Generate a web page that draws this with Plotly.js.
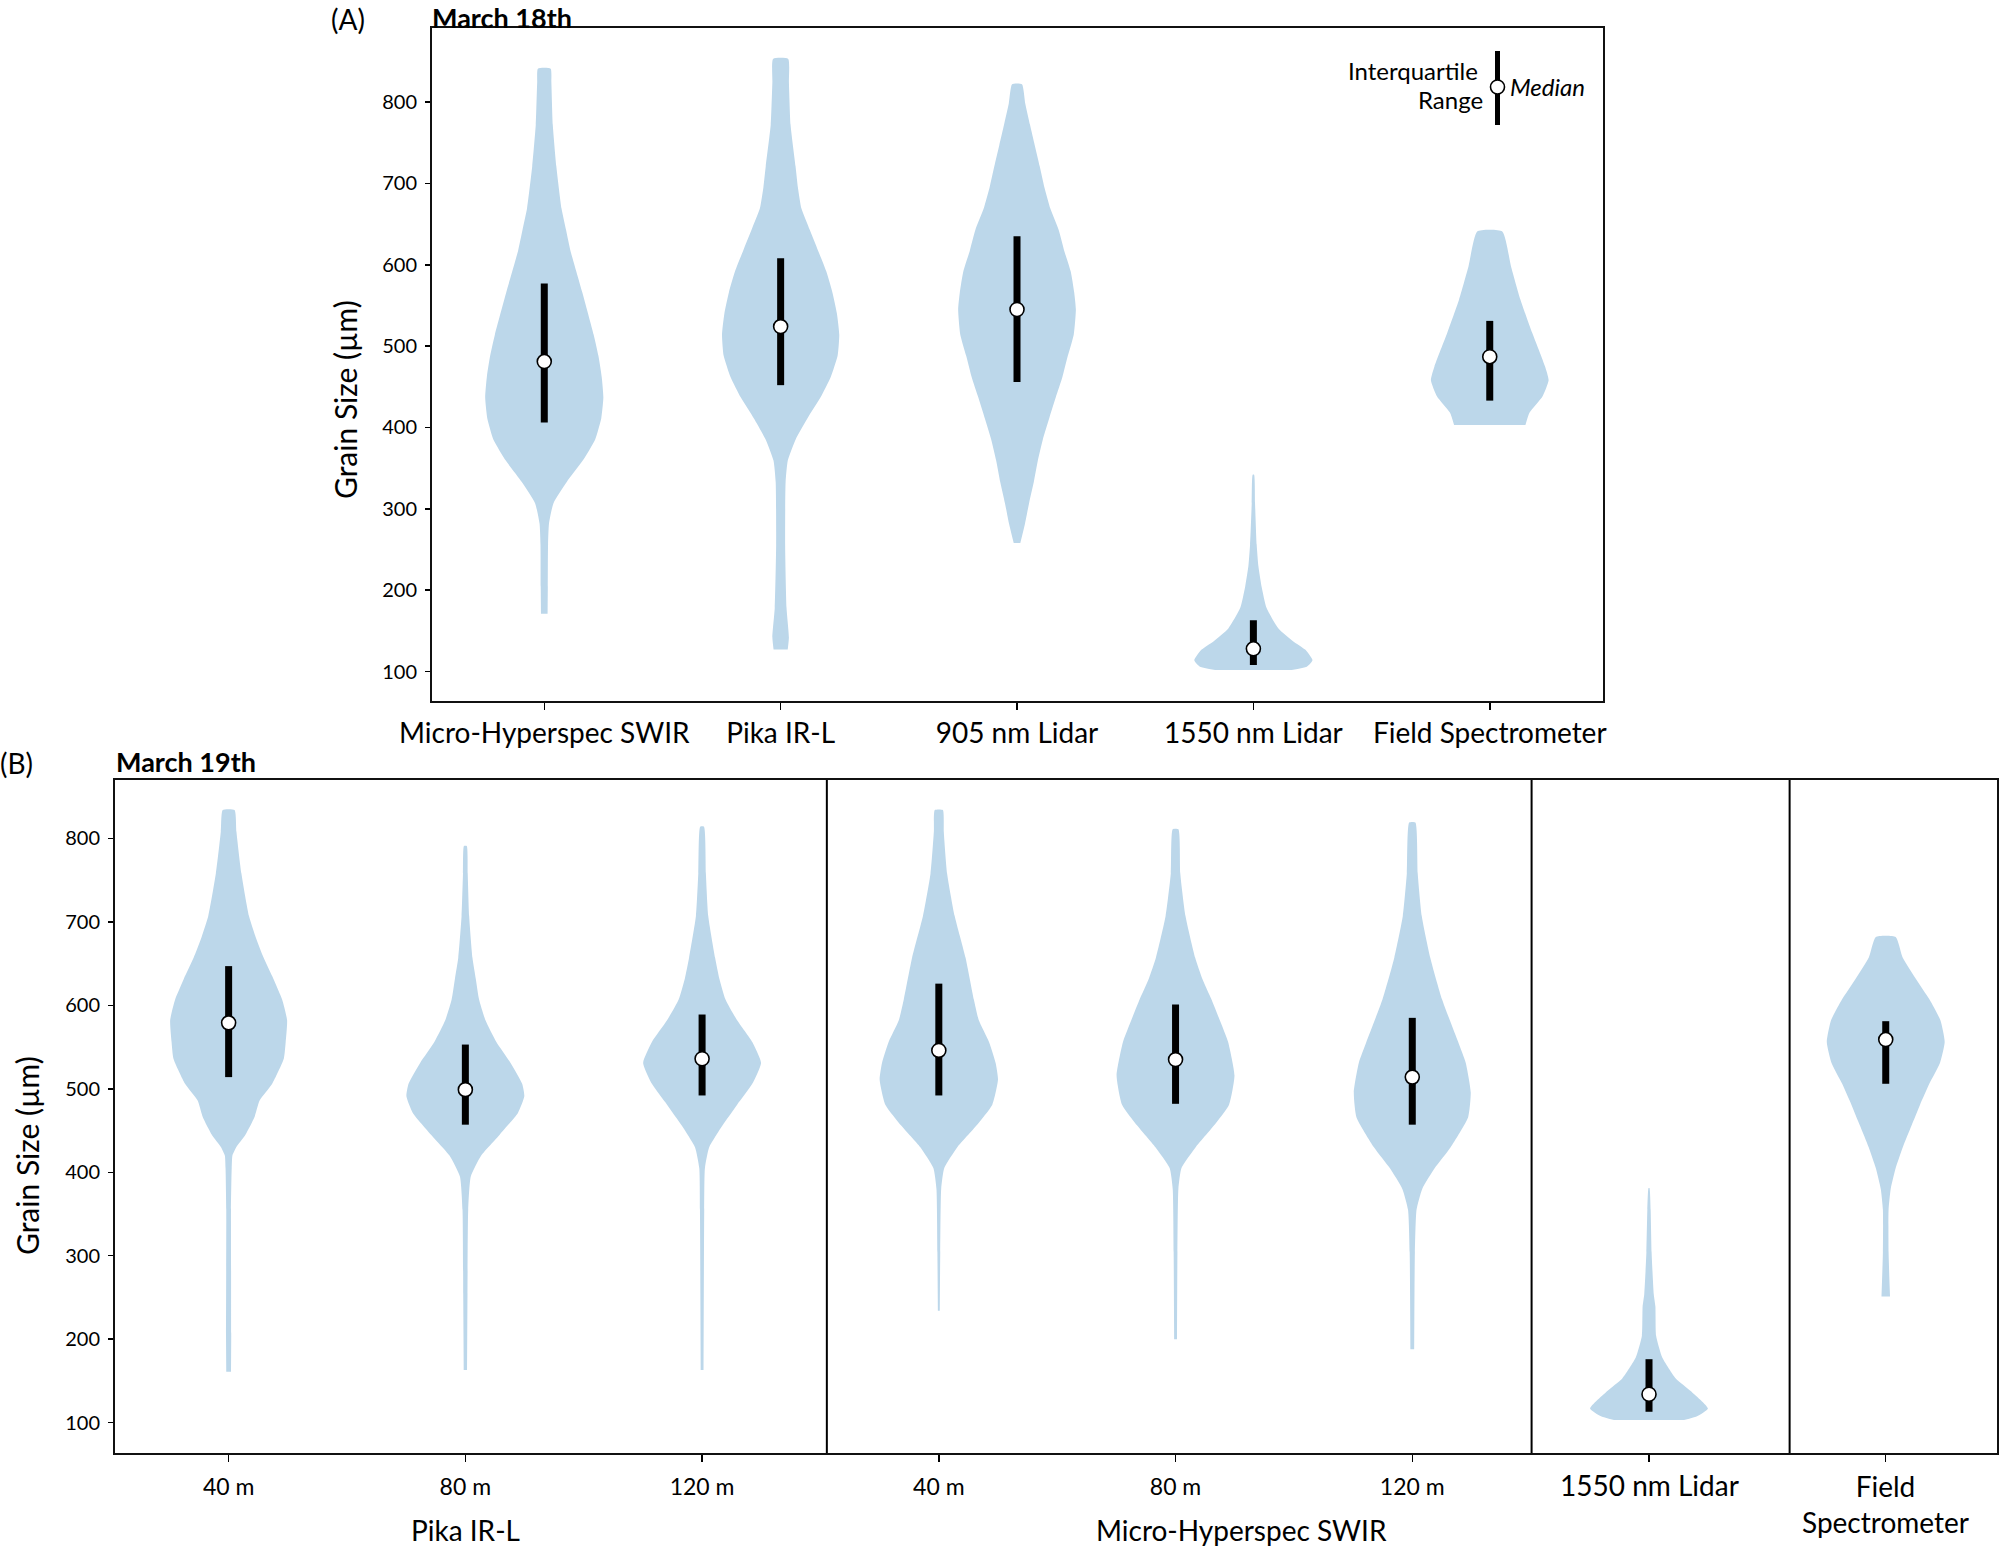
<!DOCTYPE html>
<html>
<head>
<meta charset="utf-8">
<script src="https://cdn.plot.ly/plotly-3.0.1.min.js"></script>
<style>
  html, body { margin: 0; padding: 0; background: #fff; }
  #chart { width: 2000px; height: 1548px; }
</style>
</head>
<body>
<div id="chart"></div>
<script>
// ---------- Panel A: March 18th ----------
const sensorsA = ["Micro-Hyperspec SWIR", "Pika IR-L", "905 nm Lidar", "1550 nm Lidar", "Field Spectrometer"];

// violin outlines: grain size (µm) and half-width of the density profile
const aSwirGrain = [171, 204, 256, 282, 307, 333, 359, 385, 411, 437, 462, 488, 514, 566, 617, 643, 669, 721, 772, 824, 841];
const aSwirWidth = [0.014, 0.015, 0.016, 0.020, 0.039, 0.095, 0.162, 0.215, 0.241, 0.250, 0.243, 0.229, 0.209, 0.161, 0.111, 0.092, 0.073, 0.051, 0.036, 0.030, 0.027];

const aPikaGrain = [127, 142, 178, 256, 333, 359, 385, 411, 437, 462, 488, 514, 540, 566, 592, 617, 643, 669, 695, 721, 772, 824, 853];
const aPikaWidth = [0.030, 0.035, 0.025, 0.019, 0.021, 0.030, 0.063, 0.113, 0.169, 0.212, 0.241, 0.248, 0.238, 0.219, 0.193, 0.159, 0.123, 0.088, 0.073, 0.063, 0.042, 0.035, 0.032];

const a905Grain = [258, 282, 307, 333, 359, 385, 411, 437, 462, 488, 514, 545, 566, 592, 617, 643, 669, 695, 721, 747, 772, 798, 822];
const a905Width = [0.014, 0.034, 0.051, 0.071, 0.088, 0.109, 0.136, 0.164, 0.192, 0.215, 0.240, 0.249, 0.242, 0.227, 0.200, 0.176, 0.141, 0.116, 0.096, 0.075, 0.055, 0.035, 0.021];

const a1550Grain = [102, 106, 114, 127, 137, 153, 178, 204, 230, 256, 307, 342];
const a1550Width = [0.162, 0.226, 0.250, 0.219, 0.169, 0.106, 0.056, 0.035, 0.021, 0.014, 0.007, 0.003];

const aFieldGrain = [403, 418, 438, 458, 475, 516, 557, 598, 641];
const aFieldWidth = [0.151, 0.168, 0.223, 0.249, 0.234, 0.180, 0.130, 0.090, 0.053];

const q1A = [406, 452, 456, 108, 433];
const medianA = [481, 524, 545, 128, 487];
const q3A = [577, 608, 635, 163, 531];

// ---------- Panel B: March 19th ----------
const altitudesB = ["40 m", "80 m", "120 m", "40 m", "80 m", "120 m", "", ""];
const sensorGroupsB = ["Pika IR-L", "Micro-Hyperspec SWIR", "1550 nm Lidar", "Field<br>Spectrometer"];

const bPika40Grain = [161, 204, 355, 405, 420, 430, 445, 466, 486, 506, 536, 556, 582, 607, 632, 657, 682, 707, 758, 808, 834];
const bPika40Width = [0.010, 0.011, 0.010, 0.013, 0.016, 0.032, 0.071, 0.109, 0.131, 0.184, 0.233, 0.241, 0.247, 0.226, 0.189, 0.148, 0.114, 0.086, 0.054, 0.033, 0.025];

const bPika80Grain = [163, 254, 355, 395, 420, 445, 471, 491, 506, 531, 556, 582, 607, 632, 657, 707, 758, 791];
const bPika80Width = [0.007, 0.009, 0.012, 0.023, 0.067, 0.145, 0.222, 0.249, 0.240, 0.191, 0.131, 0.085, 0.058, 0.044, 0.030, 0.016, 0.010, 0.006];

const bPika120Grain = [163, 355, 405, 430, 456, 481, 506, 531, 556, 582, 607, 632, 657, 707, 758, 814];
const bPika120Width = [0.006, 0.009, 0.012, 0.030, 0.086, 0.148, 0.212, 0.249, 0.212, 0.148, 0.099, 0.073, 0.055, 0.026, 0.016, 0.008];

const bSwir40Grain = [234, 304, 380, 405, 430, 456, 481, 511, 531, 556, 582, 607, 657, 707, 758, 808, 834];
const bSwir40Width = [0.004, 0.006, 0.010, 0.023, 0.078, 0.159, 0.226, 0.250, 0.240, 0.212, 0.169, 0.148, 0.113, 0.067, 0.035, 0.021, 0.017];

const bSwir80Grain = [200, 304, 380, 405, 430, 456, 481, 516, 556, 582, 607, 632, 657, 707, 758, 811];
const bSwir80Width = [0.006, 0.008, 0.012, 0.025, 0.085, 0.162, 0.226, 0.249, 0.222, 0.187, 0.152, 0.113, 0.083, 0.042, 0.020, 0.012];

const bSwir120Grain = [188, 304, 355, 380, 405, 430, 466, 496, 531, 556, 607, 657, 707, 758, 819];
const bSwir120Width = [0.008, 0.011, 0.018, 0.042, 0.095, 0.162, 0.236, 0.247, 0.226, 0.194, 0.126, 0.076, 0.040, 0.023, 0.013];

const b1550Grain = [103, 108, 117, 138, 153, 178, 204, 239, 254, 304, 355, 381];
const b1550Width = [0.148, 0.205, 0.249, 0.176, 0.113, 0.056, 0.030, 0.027, 0.020, 0.011, 0.007, 0.002];

const bFieldGrain = [251, 304, 355, 380, 405, 430, 456, 481, 506, 531, 556, 582, 607, 632, 657, 682];
const bFieldWidth = [0.018, 0.012, 0.012, 0.021, 0.042, 0.072, 0.109, 0.145, 0.184, 0.229, 0.249, 0.231, 0.185, 0.127, 0.072, 0.042];

const q1B = [514, 457, 492, 492, 482, 457, 113, 506];
const medianB = [579, 499, 536, 546, 535, 514, 134, 559];
const q3B = [647, 553, 589, 626, 601, 585, 176, 581];

// category boundaries between sensor groups in panel B
const groupBreaksB = [2.527, 5.504, 6.594];

// ---------- drawing ----------
const FONT = "Lato, 'Open Sans', sans-serif";
const VIOLIN_FILL = "rgb(188,215,234)";

function violin(pos, grain, width, xa, ya) {
  const x = [], y = [];
  for (let i = 0; i < grain.length; i++) { x.push(pos + width[i]); y.push(grain[i]); }
  for (let i = grain.length - 1; i >= 0; i--) { x.push(pos - width[i]); y.push(grain[i]); }
  return {
    type: "scatter", mode: "lines", x: x, y: y, xaxis: xa, yaxis: ya,
    fill: "toself", fillcolor: VIOLIN_FILL,
    line: { width: 0, shape: "spline", smoothing: 0.5 },
    hoverinfo: "skip"
  };
}

function iqrBars(q1, q3, xa, ya) {
  const x = [], y = [];
  q1.forEach((v, i) => { x.push(i, i, null); y.push(v, q3[i], null); });
  return {
    type: "scatter", mode: "lines", x: x, y: y, xaxis: xa, yaxis: ya,
    line: { color: "#000", width: 7 }, hoverinfo: "skip"
  };
}

function medians(med, xa, ya) {
  return {
    type: "scatter", mode: "markers", x: med.map((_, i) => i), y: med, xaxis: xa, yaxis: ya,
    marker: { symbol: "circle", size: 14, color: "#fff", line: { color: "#000", width: 1.6 } },
    hoverinfo: "skip"
  };
}

const profilesA = [
  [aSwirGrain, aSwirWidth], [aPikaGrain, aPikaWidth], [a905Grain, a905Width],
  [a1550Grain, a1550Width], [aFieldGrain, aFieldWidth]
];
const profilesB = [
  [bPika40Grain, bPika40Width], [bPika80Grain, bPika80Width], [bPika120Grain, bPika120Width],
  [bSwir40Grain, bSwir40Width], [bSwir80Grain, bSwir80Width], [bSwir120Grain, bSwir120Width],
  [b1550Grain, b1550Width], [bFieldGrain, bFieldWidth]
];

const traces = [];
profilesA.forEach((p, i) => traces.push(violin(i, p[0], p[1], "x", "y")));
profilesB.forEach((p, i) => traces.push(violin(i, p[0], p[1], "x2", "y2")));
traces.push(iqrBars(q1A, q3A, "x", "y"));
traces.push(iqrBars(q1B, q3B, "x2", "y2"));
traces.push(medians(medianA, "x", "y"));
traces.push(medians(medianB, "x2", "y2"));

const W = 2000, H = 1548;
const px = v => v / W;
const py = v => 1 - v / H;

const yTicks = [100, 200, 300, 400, 500, 600, 700, 800];

const baseAxis = {
  showgrid: false, zeroline: false, showline: true, mirror: true,
  linecolor: "#111", linewidth: 2,
  ticks: "outside", tickcolor: "#000", tickwidth: 1.5,
  fixedrange: true
};

const layout = {
  width: W, height: H,
  margin: { l: 0, r: 0, t: 0, b: 0 },
  paper_bgcolor: "#fff", plot_bgcolor: "#fff",
  showlegend: false,
  font: { family: FONT, color: "#000" },
  xaxis: Object.assign({}, baseAxis, {
    domain: [px(432), px(1602.5)], anchor: "y",
    range: [-0.475, 4.477],
    tickmode: "array", tickvals: sensorsA.map((_, i) => i), ticktext: sensorsA,
    ticklen: 7, ticklabelstandoff: 0,
    tickfont: { family: FONT, size: 28, color: "#000" }
  }),
  yaxis: Object.assign({}, baseAxis, {
    domain: [py(700.5), py(28)], anchor: "x",
    range: [64.4, 891],
    tickmode: "array", tickvals: yTicks, ticklen: 5, ticklabelstandoff: 4,
    tickfont: { family: FONT, size: 20, color: "#000" }
  }),
  xaxis2: Object.assign({}, baseAxis, {
    domain: [px(115), px(1997)], anchor: "y2",
    range: [-0.48, 7.47],
    tickmode: "array", tickvals: altitudesB.map((_, i) => i), ticktext: altitudesB,
    ticklen: 7, ticklabelstandoff: 5,
    tickfont: { family: FONT, size: 23, color: "#000" }
  }),
  yaxis2: Object.assign({}, baseAxis, {
    domain: [py(1453), py(780)], anchor: "x2",
    range: [63.6, 870],
    tickmode: "array", tickvals: yTicks, ticklen: 5, ticklabelstandoff: 4,
    tickfont: { family: FONT, size: 20, color: "#000" }
  }),
  shapes: [
    // sensor group dividers in panel B
    ...groupBreaksB.map(b => ({
      type: "line", xref: "x2", yref: "y2 domain", x0: b, x1: b, y0: 0, y1: 1,
      line: { color: "#000", width: 2 }
    })),
    // key: interquartile bar with median dot
    { type: "line", xref: "paper", yref: "paper", x0: px(1497.5), x1: px(1497.5), y0: py(51), y1: py(125),
      line: { color: "#000", width: 5 } },
    { type: "circle", xref: "paper", yref: "paper", xsizemode: "pixel", ysizemode: "pixel",
      xanchor: px(1497.5), yanchor: py(87), x0: -7, x1: 7, y0: -7, y1: 7,
      fillcolor: "#fff", line: { color: "#000", width: 1.6 } }
  ],
  annotations: [
    { text: "(A)", xref: "paper", yref: "paper", x: px(348), y: py(19), xanchor: "center", yanchor: "middle",
      showarrow: false, font: { family: FONT, size: 28, color: "#000" } },
    { text: "<b>March 18th</b>", xref: "paper", yref: "paper", x: px(431), y: 1, xanchor: "left", yanchor: "top",
      borderpad: 0, showarrow: false, font: { family: FONT, size: 27, color: "#000" } },
    { text: "Grain Size (µm)", xref: "paper", yref: "paper", x: px(345), y: py(400), textangle: -90,
      xanchor: "center", yanchor: "middle", showarrow: false, font: { family: FONT, size: 30, color: "#000" } },
    { text: "Interquartile", xref: "paper", yref: "paper", x: px(1480), y: py(70), xanchor: "right", yanchor: "middle",
      showarrow: false, font: { family: FONT, size: 24, color: "#000" } },
    { text: "Range", xref: "paper", yref: "paper", x: px(1485), y: py(100), xanchor: "right", yanchor: "middle",
      showarrow: false, font: { family: FONT, size: 24, color: "#000" } },
    { text: "<i>Median</i>", xref: "paper", yref: "paper", x: px(1508), y: py(86), xanchor: "left", yanchor: "middle",
      showarrow: false, font: { family: FONT, size: 24, color: "#000" } },

    { text: "(B)", xref: "paper", yref: "paper", x: px(16), y: py(763), xanchor: "center", yanchor: "middle",
      showarrow: false, font: { family: FONT, size: 28, color: "#000" } },
    { text: "<b>March 19th</b>", xref: "paper", yref: "paper", x: px(114), y: py(761), xanchor: "left", yanchor: "middle",
      showarrow: false, font: { family: FONT, size: 27, color: "#000" } },
    { text: "Grain Size (µm)", xref: "paper", yref: "paper", x: px(27), y: py(1156), textangle: -90,
      xanchor: "center", yanchor: "middle", showarrow: false, font: { family: FONT, size: 30, color: "#000" } },

    { text: sensorGroupsB[0], xref: "x2", yref: "paper", x: 1, y: py(1530), xanchor: "center", yanchor: "middle",
      showarrow: false, font: { family: FONT, size: 28, color: "#000" } },
    { text: sensorGroupsB[1], xref: "x2", yref: "paper", x: 4.28, y: py(1530), xanchor: "center", yanchor: "middle",
      showarrow: false, font: { family: FONT, size: 28, color: "#000" } },
    { text: sensorGroupsB[2], xref: "x2", yref: "paper", x: 6, y: py(1485), xanchor: "center", yanchor: "middle",
      showarrow: false, font: { family: FONT, size: 28, color: "#000" } },
    { text: sensorGroupsB[3], xref: "x2", yref: "paper", x: 7, y: py(1504), xanchor: "center", yanchor: "middle",
      showarrow: false, font: { family: FONT, size: 28, color: "#000" } }
  ]
};

Plotly.newPlot("chart", traces, layout, { staticPlot: true, displayModeBar: false });
</script>
</body>
</html>
